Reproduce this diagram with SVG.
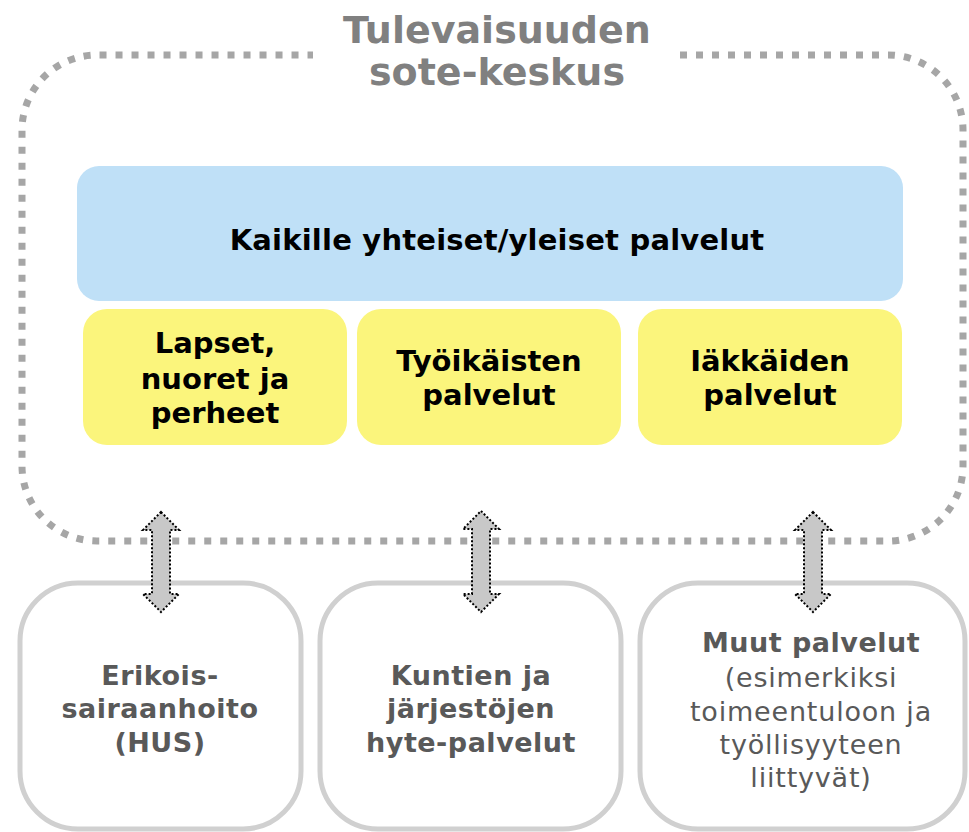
<svg xmlns="http://www.w3.org/2000/svg" width="969" height="832" viewBox="0 0 969 832">
<style>
text{font-family:"DejaVu Sans",Verdana,sans-serif;text-anchor:middle}
.t{font-weight:bold;font-size:38px;fill:#808080}
.b{font-weight:bold;font-size:29px;fill:#000;letter-spacing:0.2px}
.y{font-weight:bold;font-size:29px;fill:#000}
.g{font-weight:bold;font-size:27px;fill:#595959;letter-spacing:0.5px}
.n{font-size:27px;fill:#595959;letter-spacing:0.8px}
.out{fill:#fff;stroke:#d0d0d0;stroke-width:5}
.arr{fill:#c8c8c8;stroke:#000;stroke-width:2;stroke-dasharray:2 2}
</style>
<rect width="969" height="832" fill="#fff"/>
<g id="frame">
<path d="M680,55 H888 A75,75 0 0 1 963,130 V466 A75,75 0 0 1 888,541 H97 A75,75 0 0 1 22,466 V130 A75,75 0 0 1 97,55 H313" fill="none" stroke="#a6a6a6" stroke-width="7" stroke-dasharray="7 9"/>
<text class="t" x="497" y="43">Tulevaisuuden</text>
<text class="t" x="497" y="85">sote-keskus</text>
</g>
<g id="common">
<rect x="77" y="166" width="826" height="135" rx="22" fill="#bfe0f7"/>
<text class="b" x="497" y="250">Kaikille yhteiset/yleiset palvelut</text>
</g>
<g id="children">
<rect x="83" y="309" width="264" height="136" rx="24" fill="#fbf57c"/>
<text class="y" x="215" y="353">Lapset,</text>
<text class="y" x="215" y="389">nuoret ja</text>
<text class="y" x="215" y="423">perheet</text>
</g>
<g id="working">
<rect x="357" y="309" width="264" height="136" rx="24" fill="#fbf57c"/>
<text class="y" x="489" y="371">Työikäisten</text>
<text class="y" x="489" y="405">palvelut</text>
</g>
<g id="elderly">
<rect x="638" y="309" width="264" height="136" rx="24" fill="#fbf57c"/>
<text class="y" x="770" y="371">Iäkkäiden</text>
<text class="y" x="770" y="405">palvelut</text>
</g>
<g id="hus">
<rect class="out" x="20" y="583" width="281" height="246" rx="58"/>
<text class="g" x="160" y="685">Erikois-</text>
<text class="g" x="160" y="718">sairaanhoito</text>
<text class="g" x="160" y="752">(HUS)</text>
</g>
<g id="hyte">
<rect class="out" x="320" y="583" width="301" height="246" rx="58"/>
<text class="g" x="471" y="685">Kuntien ja</text>
<text class="g" x="471" y="718">järjestöjen</text>
<text class="g" x="471" y="752">hyte-palvelut</text>
</g>
<g id="other">
<rect class="out" x="640" y="583" width="325" height="246" rx="58"/>
<text class="g" x="811" y="652">Muut palvelut</text>
<text class="n" x="811" y="687">(esimerkiksi</text>
<text class="n" x="811" y="721">toimeentuloon ja</text>
<text class="n" x="811" y="754">työllisyyteen</text>
<text class="n" x="811" y="787">liittyvät)</text>
</g>
<g id="connectors">
<polygon class="arr" points="161,512 179,530 170,530 170,594 179,594 161,612 143,594 152,594 152,530 143,530"/>
<polygon class="arr" points="481,511 499,529 490,529 490,594 499,594 481,612 463,594 472,594 472,529 463,529"/>
<polygon class="arr" points="813,512 831,530 822,530 822,594 831,594 813,612 795,594 804,594 804,530 795,530"/>
</g>
</svg>
